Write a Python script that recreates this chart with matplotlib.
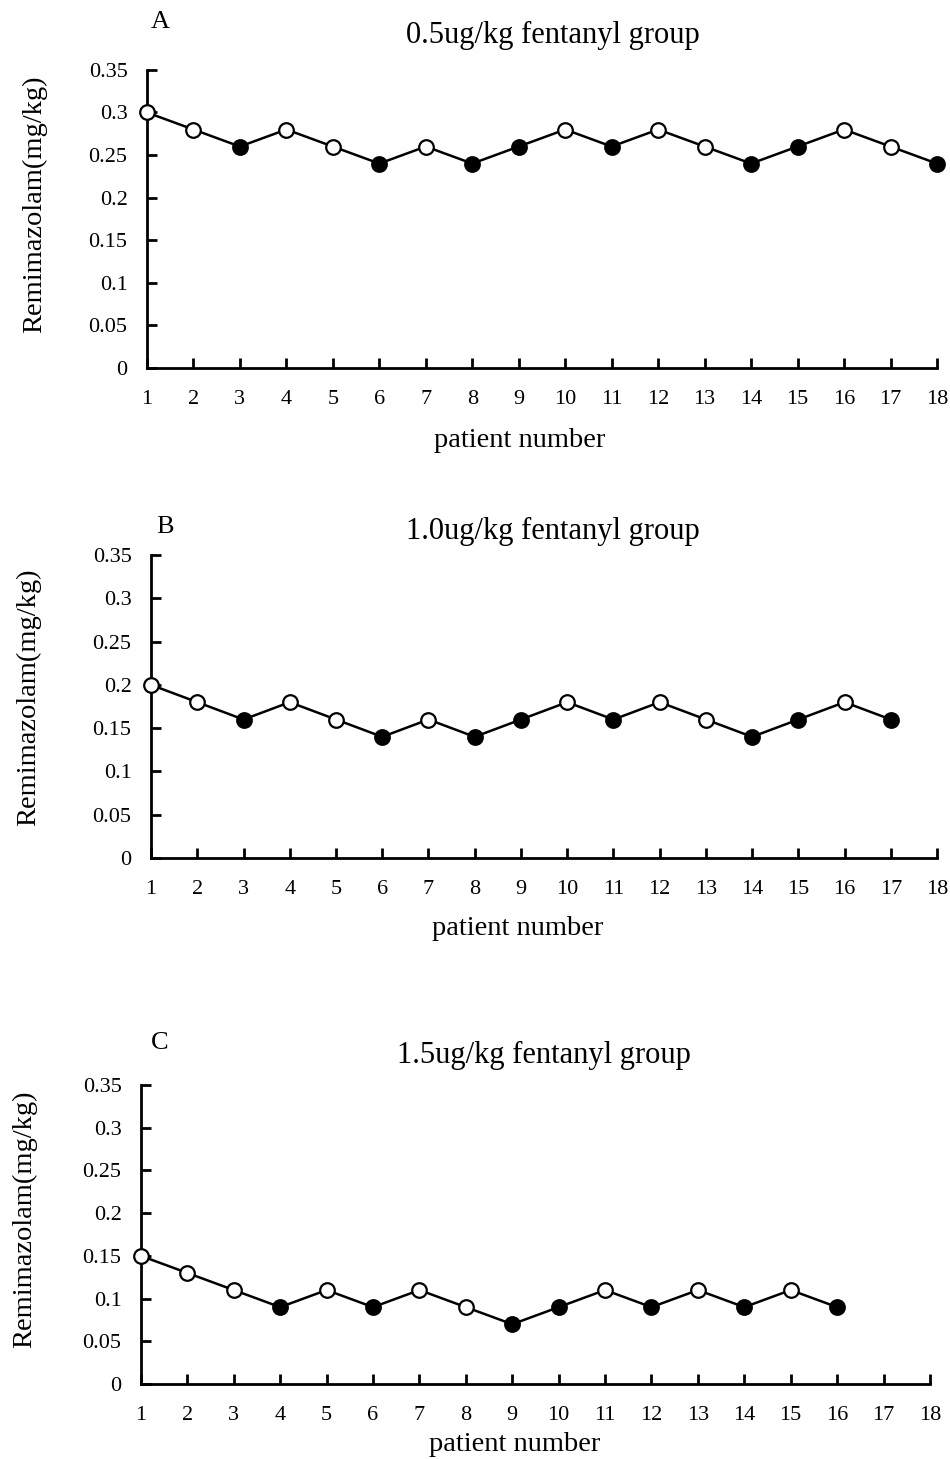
import matplotlib.pyplot as plt

plt.rcParams['font.family'] = ['Liberation Serif', 'DejaVu Serif']

# dose per patient, and whether the marker is filled (1) or open (0)
dose_a = [0.30, 0.28, 0.26, 0.28, 0.26, 0.24, 0.26, 0.24, 0.26,
          0.28, 0.26, 0.28, 0.26, 0.24, 0.26, 0.28, 0.26, 0.24]
fill_a = [0, 0, 1, 0, 0, 1, 0, 1, 1, 0, 1, 0, 0, 1, 1, 0, 0, 1]

dose_b = [0.20, 0.18, 0.16, 0.18, 0.16, 0.14, 0.16, 0.14, 0.16,
          0.18, 0.16, 0.18, 0.16, 0.14, 0.16, 0.18, 0.16]
fill_b = [0, 0, 1, 0, 0, 1, 0, 1, 1, 0, 1, 0, 0, 1, 1, 0, 1]

dose_c = [0.15, 0.13, 0.11, 0.09, 0.11, 0.09, 0.11, 0.09, 0.07,
          0.09, 0.11, 0.09, 0.11, 0.09, 0.11, 0.09]
fill_c = [0, 0, 0, 1, 0, 1, 0, 0, 1, 1, 0, 1, 0, 1, 0, 1]

titles = ['0.5ug/kg fentanyl group', '1.0ug/kg fentanyl group', '1.5ug/kg fentanyl group']
letters = ['A', 'B', 'C']
yticks = [0, 0.05, 0.1, 0.15, 0.2, 0.25, 0.3, 0.35]
yticklabels = ['0', '0.05', '0.1', '0.15', '0.2', '0.25', '0.3', '0.35']
xticks = list(range(1, 19))

fig = plt.figure(figsize=(9.5, 14.59), dpi=100)

boxes = [[0.1547, 0.7478, 0.8316, 0.2043],
         [0.1590, 0.4119, 0.8274, 0.2077],
         [0.1484, 0.0514, 0.8305, 0.2049]]
title_pos = [(553, 35), (553, 531), (544, 1055)]
letter_pos = [(160, 22), (165, 527), (160, 1043)]
xlabel_xy = [(0.472, -0.245), (0.467, -0.231), (0.474, -0.204)]
ylabel_xy = [(-0.142, 0.55), (-0.156, 0.53), (-0.147, 0.55)]

for i, (dose, fill) in enumerate([(dose_a, fill_a), (dose_b, fill_b), (dose_c, fill_c)]):
    ax = fig.add_axes(boxes[i])
    x = list(range(1, len(dose) + 1))
    ax.plot(x, dose, color='black', lw=1.8, zorder=2, clip_on=False)
    for xi, yi, f in zip(x, dose, fill):
        ax.plot(xi, yi, 'o', ms=10.5, mec='black', mew=1.6,
                mfc='black' if f else 'white', zorder=3, clip_on=False)
    ax.set_xlim(1, 18)
    ax.set_ylim(0, 0.35)
    ax.set_xticks(xticks)
    ax.set_yticks(yticks)
    ax.set_yticklabels(yticklabels)
    ax.spines['top'].set_visible(False)
    ax.spines['right'].set_visible(False)
    ax.spines['left'].set_linewidth(2)
    ax.spines['bottom'].set_linewidth(2)
    ax.tick_params(axis='x', direction='in', length=7, width=2, labelsize=16, pad=16)
    ax.tick_params(axis='y', direction='in', length=7, width=2, labelsize=16, pad=14)
    ax.set_xlabel('patient number', fontsize=20.5, va='center')
    ax.set_ylabel('Remimazolam(mg/kg)', fontsize=20.5, va='center', ha='center')
    ax.xaxis.set_label_coords(*xlabel_xy[i])
    ax.yaxis.set_label_coords(*ylabel_xy[i])
    fig.text(title_pos[i][0] / 950, 1 - title_pos[i][1] / 1459, titles[i],
             fontsize=22, ha='center', va='center')
    fig.text(letter_pos[i][0] / 950, 1 - letter_pos[i][1] / 1459, letters[i],
             fontsize=19, ha='center', va='center')

plt.savefig('out.png', dpi=100)
